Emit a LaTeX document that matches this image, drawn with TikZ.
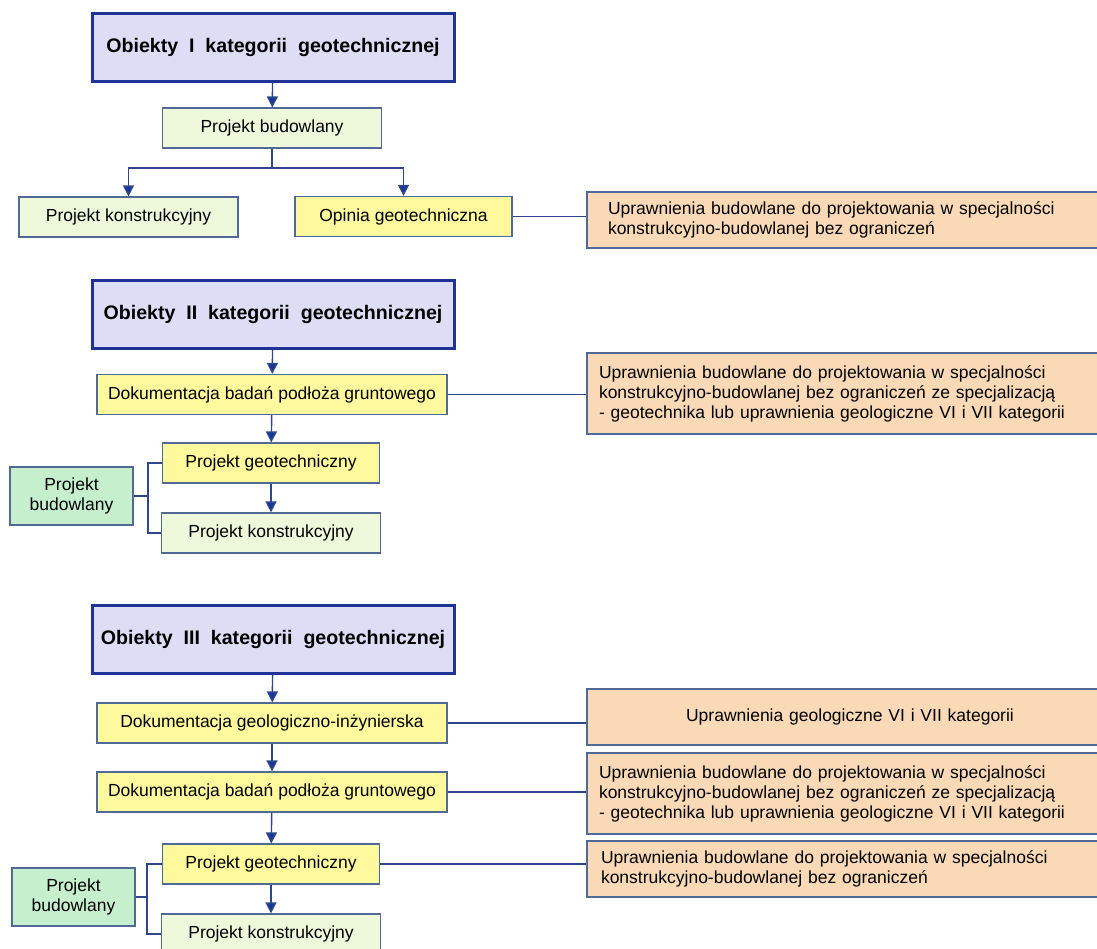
\documentclass[tikz,border=0pt]{standalone}
\usepackage{fontspec}
\setmainfont{Liberation Sans}
\usetikzlibrary{arrows.meta}

\definecolor{titleblue}{RGB}{31,50,150}
\definecolor{titlefill}{RGB}{221,221,245}
\definecolor{boxline}{RGB}{80,105,150}
\definecolor{lineblue}{RGB}{45,70,140}
\definecolor{arrowblue}{RGB}{25,55,155}
\definecolor{konstrfill}{RGB}{238,249,220}
\definecolor{geofill}{RGB}{255,249,158}
\definecolor{budofill}{RGB}{198,239,206}
\definecolor{uprfill}{RGB}{250,218,182}

\begin{document}
\begin{tikzpicture}[x=0.5pt,y=-0.5pt]
\tikzset{title/.style = {shape=rectangle, draw=titleblue, line width=1.5pt, fill=titlefill,
  minimum width=181pt, minimum height=34pt, inner sep=0pt,
  font=\bfseries\fontsize{9.8}{11}\selectfont}}
\tikzset{box/.style = {shape=rectangle, draw=boxline, line width=0.6pt, inner sep=0pt,
  minimum height=20pt, font=\fontsize{8.75}{10}\selectfont}}
\tikzset{konstr/.style = {box, fill=konstrfill, minimum width=109.5pt}}
\tikzset{geo/.style = {box, fill=geofill, minimum width=108.5pt}}
\tikzset{dok/.style = {box, fill=geofill, minimum width=175pt}}
\tikzset{budo/.style = {box, fill=budofill, minimum width=61.5pt, minimum height=29pt, align=center}}
\tikzset{upr/.style = {box, fill=uprfill, minimum width=263pt, inner xsep=6pt, text width=251pt, align=left}}
\tikzset{edge/.style = {-, draw=lineblue, line width=0.7pt}}
\tikzset{arrow/.style = {edge, -{Triangle[width=5.5pt,length=5.5pt,fill=arrowblue]}}}
\useasboundingbox (0,0) rectangle (1097,948);
\clip (0,0) rectangle (1097,948);
% kategoria I
\node[title](t1) at (273,47) {Obiekty~ I~ kategorii~ geotechnicznej};
\node[konstr](pb1) at (272,128) {Projekt budowlany};
\node[konstr](pk1) at (128.5,217) {Projekt konstrukcyjny};
\node[geo](og1) at (403.5,216.5) {Opinia geotechniczna};
\node[upr, minimum height=28pt, inner xsep=10.5pt, text width=242pt](u1) at (850,220)
  {Uprawnienia budowlane do projektowania w specjalności\\konstrukcyjno-budowlanej bez ograniczeń};
\coordinate (s1) at (272,168);
\draw[arrow] (t1) -- (pb1);
\draw[edge] (pb1) -- (s1);
\draw[arrow] (s1) -| (pk1);
\draw[arrow] (s1) -| (og1);
\draw[edge] (og1) -- (og1 -| u1.west);
% kategoria II
\node[title](t2) at (273,314.5) {Obiekty~ II~ kategorii~ geotechnicznej};
\node[dok](dbp2) at (272,394.5) {Dokumentacja badań podłoża gruntowego};
\node[upr, minimum height=40.5pt](u2) at (850,393.5)
  {Uprawnienia budowlane do projektowania w specjalności\\konstrukcyjno-budowlanej bez ograniczeń ze specjalizacją\\- geotechnika lub uprawnienia geologiczne VI i VII kategorii};
\node[geo](pg2) at (271,463) {Projekt geotechniczny};
\node[konstr](pk2) at (271,533) {Projekt konstrukcyjny};
\node[budo](pbd2) at (71.5,496) {Projekt\\budowlany};
\coordinate (b2) at (148,496);
\draw[arrow] (t2) -- (dbp2);
\draw[arrow] (dbp2) -- (pg2);
\draw[arrow] (pg2) -- (pk2);
\draw[edge] (dbp2) -- (dbp2 -| u2.west);
\draw[edge] (pbd2) -- (b2);
\draw[edge] (pg2) -| (b2) |- (pk2);
% kategoria III
\node[title](t3) at (273,639.5) {Obiekty~ III~ kategorii~ geotechnicznej};
\node[dok](dgi3) at (272,723) {Dokumentacja geologiczno-inżynierska};
\node[upr, minimum height=28pt, align=center](ua3) at (850,717) {Uprawnienia geologiczne VI i VII kategorii};
\node[dok](dbp3) at (272,792) {Dokumentacja badań podłoża gruntowego};
\node[upr, minimum height=40.5pt](ub3) at (850,793.5)
  {Uprawnienia budowlane do projektowania w specjalności\\konstrukcyjno-budowlanej bez ograniczeń ze specjalizacją\\- geotechnika lub uprawnienia geologiczne VI i VII kategorii};
\node[geo](pg3) at (271,864) {Projekt geotechniczny};
\node[upr, minimum height=28pt, inner xsep=7pt, text width=249pt](uc3) at (850,869)
  {Uprawnienia budowlane do projektowania w specjalności\\konstrukcyjno-budowlanej bez ograniczeń};
\node[konstr](pk3) at (271,934) {Projekt konstrukcyjny};
\node[budo](pbd3) at (73.5,897) {Projekt\\budowlany};
\coordinate (b3) at (147,897);
\draw[arrow] (t3) -- (dgi3);
\draw[arrow] (dgi3) -- (dbp3);
\draw[arrow] (dbp3) -- (pg3);
\draw[arrow] (pg3) -- (pk3);
\draw[edge] (dgi3) -- (dgi3 -| ua3.west);
\draw[edge] (dbp3) -- (dbp3 -| ub3.west);
\draw[edge] (pg3) -- (pg3 -| uc3.west);
\draw[edge] (pbd3) -- (b3);
\draw[edge] (pg3) -| (b3) |- (pk3);
\end{tikzpicture}
\end{document}
